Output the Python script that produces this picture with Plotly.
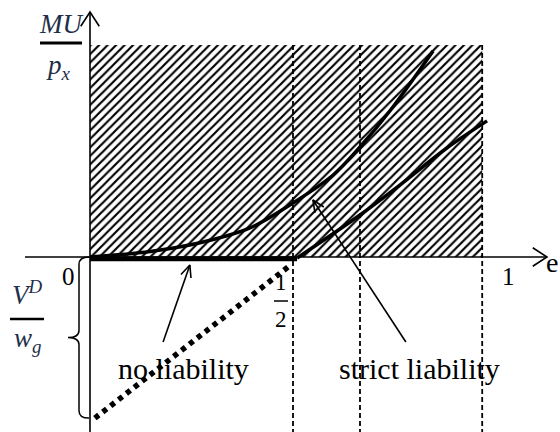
import math
import plotly.graph_objects as go

# ---------------- data (chart units: effort e on x, MU/p_x on y) ----------------
HATCH_E = [0.0, 0.966]
HATCH_MU = [0.0, 1.0]
DASHED_E = [0.5, 0.665, 0.966]
UPPER_E = [0.0, 0.148, 0.271, 0.394, 0.5, 0.599, 0.665, 0.739, 0.845]
UPPER_MU = [0.0, 0.026, 0.067, 0.137, 0.255, 0.387, 0.519, 0.69, 0.972]
STRICT_E = [0.51, 0.665, 0.764, 0.879, 0.978]
STRICT_MU = [-0.005, 0.198, 0.340, 0.514, 0.642]
FLAT_E = [0.0, 0.51]
FLAT_MU = [-0.008, -0.008]
DOTTED_E = [0.012, 0.488]
DOTTED_MU = [-0.76, -0.047]
VD_WG = -0.76
X_TICK_LABELS = ["0", "1"]
X_TICK_E = [-0.052, 1.03]
NOLIAB_ARROW = [(0.18, -0.401), (0.246, -0.038)]     # tail, tip
STRICT_ARROW = [(0.778, -0.401), (0.549, 0.269)]     # tail, tip

# ---------------- layout geometry ----------------
W, H = 560, 432
SX, SY = 406, 212          # pixels per unit
OX, OY = 90, 257           # pixel position of the origin


def to_px(x, y):
    return (OX + x * SX, OY - y * SY)


def to_data(px, py):
    return ((px - OX) / SX, (OY - py) / SY)


X0, X1 = to_data(0, 0)[0], to_data(W, 0)[0]
Y1, Y0 = to_data(0, 0)[1], to_data(0, H)[1]


def head(tail, tip, length=13, half_angle=24):
    tx, ty = to_px(*tail)
    hx, hy = to_px(*tip)
    ang = math.atan2(ty - hy, tx - hx)
    pts = []
    for s in (-1, 1):
        a = ang + s * math.radians(half_angle)
        pts.append(to_data(hx + length * math.cos(a), hy + length * math.sin(a)))
    return [pts[0], tip, pts[1]]


fig = go.Figure()


def line(xs, ys, width=1.5, dash=None, shape="linear"):
    fig.add_trace(go.Scatter(
        x=xs, y=ys, mode="lines", hoverinfo="skip", showlegend=False,
        line=dict(color="black", width=width, dash=dash, shape=shape)))


# hatched region
fig.add_trace(go.Scatter(
    x=[HATCH_E[0], HATCH_E[1], HATCH_E[1], HATCH_E[0], HATCH_E[0]],
    y=[HATCH_MU[0], HATCH_MU[0], HATCH_MU[1], HATCH_MU[1], HATCH_MU[0]],
    mode="none", fill="toself", fillcolor="white", hoverinfo="skip", showlegend=False,
    fillpattern=dict(shape="/", size=6, solidity=0.36, fgcolor="black",
                     bgcolor="white", fillmode="replace")))

# dashed verticals
for e in DASHED_E:
    line([e, e], [HATCH_MU[1], Y0], width=1.8, dash="5px,3px")

# axes
top_y = to_data(0, 12)[1]
right_x = to_data(547, 0)[0]
line([0, 0], [Y0, top_y], width=1.6)
line([to_data(25, 0)[0], right_x], [0, 0], width=1.6)
for tail, tip in [((0, 0.5), (0, top_y)), ((0.5, 0), (right_x, 0))]:
    pts = head(tail, tip, length=17, half_angle=33)
    line([p[0] for p in pts], [p[1] for p in pts], width=1.6)

# curves
line(UPPER_E, UPPER_MU, width=3.5, shape="spline")
line(STRICT_E, STRICT_MU, width=3.5, shape="spline")
line(FLAT_E, FLAT_MU, width=5)
line(DOTTED_E, DOTTED_MU, width=5.5, dash="5px,5px")

# annotation arrows
for tail, tip in [NOLIAB_ARROW, STRICT_ARROW]:
    line([tail[0], tip[0]], [tail[1], tip[1]], width=1.6)
    pts = head(tail, tip)
    line([p[0] for p in pts], [p[1] for p in pts], width=1.6)

# bracket for V^D / w_g
bx = to_data(79, 0)[0]
ex = to_data(89, 0)[0]
mx = to_data(68, 0)[0]
ym = VD_WG / 2
r = 0.035
path = (f"M {ex},{0} Q {bx},{0} {bx},{-r} L {bx},{ym + r} Q {bx},{ym} {mx},{ym} "
        f"Q {bx},{ym} {bx},{ym - r} L {bx},{VD_WG + r} Q {bx},{VD_WG} {ex},{VD_WG}")
shapes = [dict(type="path", path=path, xref="x", yref="y",
               line=dict(color="black", width=1.5))]


def bar(p1, p2, pyv, w):
    a = to_data(p1, pyv)
    b = to_data(p2, pyv)
    shapes.append(dict(type="line", xref="x", yref="y", x0=a[0], x1=b[0], y0=a[1], y1=b[1],
                       line=dict(color="black", width=w)))


bar(40, 82, 43, 3)
bar(10, 44, 319, 2.5)
bar(274, 288, 301, 1.5)

ann = []


def text(t, px, py, size, family="Liberation Serif", color="black"):
    x, y = to_data(px, py)
    ann.append(dict(text=t, x=x, y=y, xref="x", yref="y", showarrow=False,
                    font=dict(family=family, size=size, color=color),
                    xanchor="center", yanchor="middle"))


MATH = "#1f2f4a"
text("<i>MU</i>", 61, 24, 27, color=MATH)
text("<i>p<sub>x</sub></i>", 58, 67, 27, color=MATH)
text("<i>V<sup>D</sup></i>", 27, 293, 27, color=MATH)
text("<i>w<sub>g</sub></i>", 27, 340, 27, color=MATH)
for lab, e in zip(X_TICK_LABELS, X_TICK_E):
    px = to_px(e, 0)[0]
    text(lab, px, 276, 25)
text("1", 281, 282, 23)
text("2", 281, 319, 23)
text("e", 552, 262, 28)
text("no liability", 183, 368, 30)
text("strict liability", 419, 368, 30)

fig.update_layout(
    width=W, height=H, autosize=False,
    margin=dict(l=0, r=0, t=0, b=0),
    paper_bgcolor="white", plot_bgcolor="white",
    xaxis=dict(range=[X0, X1], visible=False, fixedrange=True),
    yaxis=dict(range=[Y0, Y1], visible=False, fixedrange=True),
    shapes=shapes, annotations=ann,
)
fig.write_html("out.html", config={"displayModeBar": False, "staticPlot": True},
               post_script="document.body.style.margin='0';document.body.style.overflow='hidden';")
